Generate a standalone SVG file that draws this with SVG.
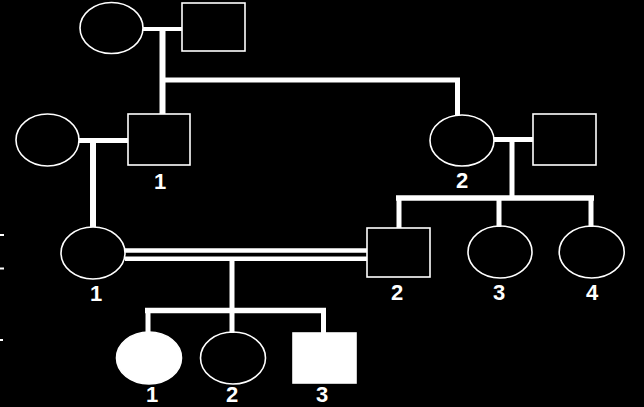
<svg xmlns="http://www.w3.org/2000/svg" width="644" height="407" viewBox="0 0 644 407">
<style>
.bg{fill:#000}
.f{fill:none;stroke:#fff;stroke-width:1.6}
.a{fill:#fff;stroke:#fff;stroke-width:1.6}
.l{stroke:#fff;stroke-width:5;fill:none}
.t{fill:#fff;font-family:"Liberation Sans",Arial,sans-serif;font-weight:bold;font-size:22px;text-anchor:middle}
.k{fill:#fff}
</style>
<rect class="bg" x="0" y="0" width="644" height="407"/>
<g id="ticks">
<rect class="k" x="0" y="234" width="4" height="2"/>
<rect class="k" x="0" y="267.5" width="4" height="2"/>
<rect class="k" x="0" y="339" width="3" height="2"/>
</g>
<g id="connectors">
<line class="l" x1="143" y1="29" x2="182" y2="29" style="stroke-width:4"/>
<line class="l" x1="162.5" y1="29" x2="162.5" y2="114" style="stroke-width:6"/>
<line class="l" x1="162.5" y1="80" x2="460" y2="80"/>
<line class="l" x1="457.5" y1="80" x2="457.5" y2="115"/>
<line class="l" x1="79" y1="140.5" x2="128" y2="140.5"/>
<line class="l" x1="93" y1="140.5" x2="93" y2="227" style="stroke-width:6"/>
<line class="l" x1="494" y1="139.5" x2="533" y2="139.5"/>
<line class="l" x1="512" y1="139.5" x2="512" y2="198"/>
<line class="l" x1="396" y1="198" x2="594" y2="198" style="stroke-width:5.5"/>
<line class="l" x1="399" y1="198" x2="399" y2="228"/>
<line class="l" x1="499" y1="198" x2="499" y2="227"/>
<line class="l" x1="591" y1="198" x2="591" y2="227"/>
<line class="l" x1="125" y1="250.5" x2="367" y2="250.5" style="stroke-width:4.5"/>
<line class="l" x1="125" y1="258.7" x2="367" y2="258.7" style="stroke-width:4.5"/>
<line class="l" x1="232" y1="258.7" x2="232" y2="311"/>
<line class="l" x1="145" y1="310.5" x2="326" y2="310.5" style="stroke-width:5.5"/>
<line class="l" x1="148" y1="310.5" x2="148" y2="333"/>
<line class="l" x1="232" y1="310.5" x2="232" y2="333"/>
<line class="l" x1="323.5" y1="310.5" x2="323.5" y2="333"/>
</g>
<g id="I-1"><ellipse class="f" cx="111.5" cy="28" rx="31.5" ry="25.5"/></g>
<g id="I-2"><rect class="f" x="182" y="3" width="63" height="48"/></g>
<g id="II-spouse"><ellipse class="f" cx="47.5" cy="140" rx="31.5" ry="26"/></g>
<g id="II-1"><rect class="f" x="128" y="114" width="62" height="51"/><text class="t" x="160" y="189">1</text></g>
<g id="II-2"><ellipse class="f" cx="462" cy="140.5" rx="32" ry="25.5"/><text class="t" x="462" y="188">2</text></g>
<g id="II-2-spouse"><rect class="f" x="533" y="114" width="63" height="51"/></g>
<g id="III-1"><ellipse class="f" cx="93" cy="253" rx="32" ry="26"/><text class="t" x="96" y="301">1</text></g>
<g id="III-2"><rect class="f" x="367" y="228" width="63" height="49"/><text class="t" x="397" y="300">2</text></g>
<g id="III-3"><ellipse class="f" cx="500" cy="252" rx="32" ry="26"/><text class="t" x="499" y="300">3</text></g>
<g id="III-4"><ellipse class="f" cx="591.7" cy="252" rx="32.5" ry="26"/><text class="t" x="592" y="300">4</text></g>
<g id="IV-1"><ellipse class="a" cx="149" cy="358" rx="32.5" ry="26"/><text class="t" x="152" y="402">1</text></g>
<g id="IV-2"><ellipse class="f" cx="233" cy="358" rx="32.5" ry="26"/><text class="t" x="232" y="402">2</text></g>
<g id="IV-3"><rect class="a" x="293" y="333" width="63" height="50"/><text class="t" x="322" y="402">3</text></g>
</svg>
